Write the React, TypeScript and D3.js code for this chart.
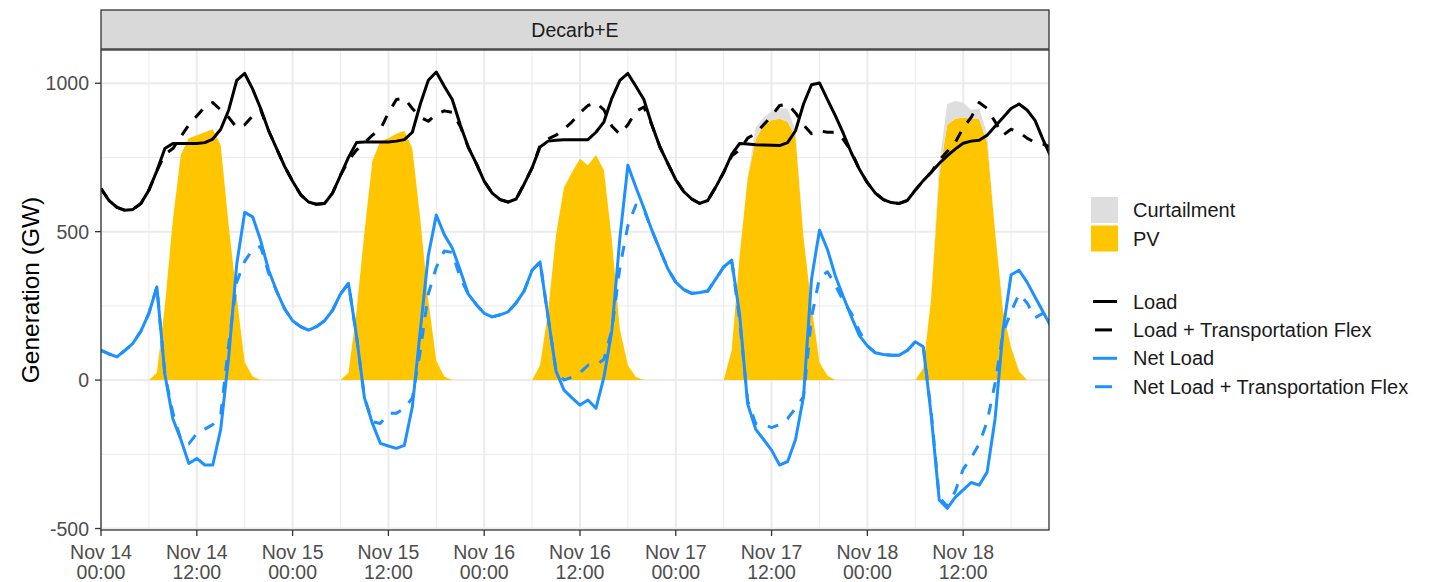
import React from "react";
import * as d3 from "d3";

// Hourly series starting Nov 14 00:00 (120 hours)
const startTime = Date.UTC(2019, 10, 14, 0, 0);

const load = [
  645, 605, 582, 572, 575, 595, 640, 705, 780, 797, 797, 797, 797, 800, 812, 845, 910, 1010, 1033, 980, 915, 840, 780, 720,
  670, 625, 600, 592, 595, 630, 690, 750, 800, 802, 802, 802, 802, 805, 810, 835, 930, 1010, 1038, 990, 945, 860, 785, 730,
  670, 630, 608, 600, 610, 660, 715, 785, 805, 808, 810, 810, 810, 810, 835, 870, 950, 1010, 1033, 990, 945, 860, 786, 730,
  675, 635, 610, 595, 605, 650, 700, 760, 797, 795, 793, 792, 791, 790, 800, 840, 930, 995, 1001, 945, 890, 830, 765, 710,
  665, 630, 608, 598, 595, 605, 640, 672, 700, 730, 755, 778, 798, 805, 808, 825, 855, 885, 915, 930, 910, 875, 810, 752,
];

const loadFlex = [
  645, 605, 582, 572, 575, 595, 640, 705, 760, 780, 820, 860, 890, 920, 935, 910, 885, 850, 860, 890, 910, 840, 780, 720,
  670, 625, 600, 592, 595, 630, 690, 740, 775, 800, 825, 845, 900, 945, 950, 915, 885, 872, 895, 907, 902, 855, 785, 730,
  670, 630, 608, 600, 610, 660, 715, 790, 812, 825, 845, 870, 900, 925, 935, 910, 855, 828, 860, 905, 920, 860, 786, 730,
  675, 635, 610, 595, 605, 650, 700, 755, 775, 815, 830, 860, 890, 925, 930, 900, 860, 830, 840, 835, 835, 810, 770, 710,
  665, 630, 608, 598, 595, 605, 640, 672, 700, 740, 770, 800, 850, 885, 935, 915, 870, 825, 845, 835, 815, 800, 795, 785,
];

const netLoad = [
  100, 88, 78, 100, 124, 165, 225, 314, 20, -130, -200, -281, -264, -286, -286, -165, 80, 390, 565, 550, 470, 370, 300, 240,
  200, 180, 168, 180, 200, 235, 290, 326, 150, -60, -146, -213, -222, -230, -220, -90, 168, 420, 556, 490, 445, 370, 290, 255,
  225, 213, 220, 230, 260, 300, 370, 398, 213, 30, -34, -60, -84, -67, -95, 10, 168, 480, 724, 650, 580, 505, 440, 375,
  330, 305, 292, 295, 300, 340, 381, 404, 220, -80, -165, -200, -236, -286, -275, -200, -56, 340, 505, 440, 350, 280, 213, 150,
  115, 92, 86, 84, 84, 100, 129, 112, -120, -404, -432, -395, -370, -345, -354, -310, -130, 170, 355, 370, 330, 280, 230, 180,
];

const netLoadFlex = [
  100, 88, 78, 100, 124, 165, 225, 314, 20, -110, -200, -215, -180, -165, -150, -115, 120, 330, 400, 440, 450, 360, 300, 240,
  200, 180, 168, 180, 200, 235, 290, 326, 150, -60, -140, -146, -112, -112, -95, -60, 100, 290, 380, 435, 430, 345, 290, 255,
  225, 213, 220, 230, 260, 300, 370, 398, 213, 30, 0, 10, 25, 50, 50, 70, 170, 380, 520, 590, 575, 505, 440, 375,
  330, 305, 292, 295, 300, 340, 381, 404, 200, -70, -146, -150, -160, -150, -130, -95, -56, 210, 345, 365, 320, 265, 225, 165,
  115, 92, 86, 84, 84, 100, 129, 112, -110, -395, -425, -375, -300, -262, -215, -140, -10, 160, 230, 290, 260, 210, 225, 205,
];

const pv = [
  0, 0, 0, 0, 0, 0, 0, 25, 250, 540, 760, 815, 825, 835, 845, 790, 520, 280, 60, 12, 0, 0, 0, 0,
  0, 0, 0, 0, 0, 0, 0, 25, 230, 500, 740, 805, 815, 830, 840, 780, 540, 270, 65, 12, 0, 0, 0, 0,
  0, 0, 0, 0, 0, 0, 0, 50, 230, 490, 650, 700, 746, 724, 758, 707, 470, 170, 50, 10, 0, 0, 0, 0,
  0, 0, 0, 0, 0, 0, 0, 100, 420, 680, 810, 860, 875, 880, 870, 820, 480, 250, 60, 15, 0, 0, 0, 0,
  0, 0, 0, 0, 0, 0, 0, 40, 280, 690, 860, 880, 885, 880, 880, 800, 500, 230, 110, 30, 0, 0, 0, 0,
];

const curtailment = [
  0, 0, 0, 0, 0, 0, 0, 0, 0, 0, 0, 0, 0, 0, 0, 0, 0, 0, 0, 0, 0, 0, 0, 0,
  0, 0, 0, 0, 0, 0, 0, 0, 0, 0, 0, 0, 0, 0, 0, 0, 0, 0, 0, 0, 0, 0, 0, 0,
  0, 0, 0, 0, 0, 0, 0, 0, 0, 0, 0, 0, 0, 0, 0, 0, 0, 0, 0, 0, 0, 0, 0, 0,
  0, 0, 0, 0, 0, 0, 0, 0, 0, 0, 40, 25, 30, 35, 45, 20, 0, 0, 0, 0, 0, 0, 0, 0,
  0, 0, 0, 0, 0, 0, 0, 0, 0, 40, 70, 60, 50, 30, 35, 30, 0, 0, 0, 0, 0, 0, 0, 0,
];

const yTicks = [-500, 0, 500, 1000];
const yMinor = [-250, 250, 750];
const stripLabel = "Decarb+E";
const yTitle = "Generation (GW)";
const fillLegend = [
  { label: "Curtailment", color: "#DEDEDE" },
  { label: "PV", color: "#FFC600" },
];
const lineLegend = [
  { label: "Load", color: "#000000", dashed: false },
  { label: "Load + Transportation Flex", color: "#000000", dashed: true },
  { label: "Net Load", color: "#1E90FF", dashed: false },
  { label: "Net Load + Transportation Flex", color: "#1E90FF", dashed: true },
];

const FONT = "'Liberation Sans', Arial, Helvetica, sans-serif";

export default function App() {
  const W = 1429;
  const H = 582;
  const L = 101, R = 1049, T = 50, B = 530;
  const hour = 3600 * 1000;
  const times = load.map((_, i) => new Date(startTime + i * hour));
  const x = d3.scaleUtc().domain([new Date(startTime), new Date(startTime + 118.75 * hour)]).range([L, R]);
  const y = d3.scaleLinear().domain([-505, 1112]).range([B, T]);

  const majorX = d3.range(0, 118, 12).map((h) => new Date(startTime + h * hour));
  const minorX = d3.range(6, 119, 12).map((h) => new Date(startTime + h * hour));
  const fmtDay = d3.utcFormat("%b %d");
  const fmtTime = d3.utcFormat("%H:%M");

  const idx = d3.range(load.length);
  const pvArea = d3.area<number>().x((i) => x(times[i])).y0(() => y(0)).y1((i) => y(pv[i]))(idx) || "";
  const curtArea = d3.area<number>().x((i) => x(times[i])).y0((i) => y(pv[i])).y1((i) => y(pv[i] + curtailment[i]))(idx) || "";
  const mkLine = (arr: number[]) => d3.line<number>().x((i) => x(times[i])).y((i) => y(arr[i]))(idx) || "";

  const series = [
    { data: load, color: "#000000", dashed: false },
    { data: loadFlex, color: "#000000", dashed: true },
    { data: netLoad, color: "#1E90FF", dashed: false },
    { data: netLoadFlex, color: "#1E90FF", dashed: true },
  ];

  return (
    <svg width={W} height={H} style={{ position: "absolute", left: 0, top: 0, background: "#fff" }} fontFamily={FONT}>
      <defs>
        <clipPath id="panel">
          <rect x={L} y={T} width={R - L} height={B - T} />
        </clipPath>
      </defs>
      {/* strip */}
      <rect x={L} y={10} width={R - L} height={39} fill="#D9D9D9" stroke="#333333" strokeWidth={1.3} />
      <text x={(L + R) / 2} y={30} textAnchor="middle" dominantBaseline="central" fontSize={19.5} fill="#1A1A1A">
        {stripLabel}
      </text>
      {/* panel background and grid */}
      <rect x={L} y={T} width={R - L} height={B - T} fill="#FFFFFF" />
      {yMinor.map((v) => (
        <line key={"ym" + v} x1={L} x2={R} y1={y(v)} y2={y(v)} stroke="#EBEBEB" strokeWidth={1} />
      ))}
      {minorX.map((d, i) => (
        <line key={"xm" + i} x1={x(d)} x2={x(d)} y1={T} y2={B} stroke="#EBEBEB" strokeWidth={1} />
      ))}
      {yTicks.map((v) => (
        <line key={"yg" + v} x1={L} x2={R} y1={y(v)} y2={y(v)} stroke="#EBEBEB" strokeWidth={2} />
      ))}
      {majorX.map((d, i) => (
        <line key={"xg" + i} x1={x(d)} x2={x(d)} y1={T} y2={B} stroke="#EBEBEB" strokeWidth={2} />
      ))}
      <g clipPath="url(#panel)">
        <path d={pvArea} fill="#FFC600" />
        <path d={curtArea} fill="#DEDEDE" />
        {series.map((s, i) => (
          <path
            key={"s" + i}
            d={mkLine(s.data)}
            fill="none"
            stroke={s.color}
            strokeWidth={3}
            strokeDasharray={s.dashed ? "11 11" : undefined}
            strokeLinejoin="round"
          />
        ))}
      </g>
      <rect x={L} y={T} width={R - L} height={B - T} fill="none" stroke="#333333" strokeWidth={1.3} />
      {/* y axis */}
      {yTicks.map((v) => (
        <g key={"yt" + v}>
          <line x1={L - 6} x2={L} y1={y(v)} y2={y(v)} stroke="#333333" strokeWidth={1.3} />
          <text x={L - 12} y={y(v)} textAnchor="end" dominantBaseline="central" fontSize={19.5} fill="#4D4D4D">
            {v}
          </text>
        </g>
      ))}
      <text
        transform={`translate(30, ${(T + B) / 2}) rotate(-90)`}
        textAnchor="middle"
        dominantBaseline="central"
        fontSize={24.5}
        fill="#000000"
      >
        {yTitle}
      </text>
      {/* x axis */}
      {majorX.map((d, i) => (
        <g key={"xt" + i}>
          <line x1={x(d)} x2={x(d)} y1={B} y2={B + 6} stroke="#333333" strokeWidth={1.3} />
          <text x={x(d)} y={552} textAnchor="middle" dominantBaseline="central" fontSize={19.5} fill="#4D4D4D">
            {fmtDay(d)}
          </text>
          <text x={x(d)} y={572} textAnchor="middle" dominantBaseline="central" fontSize={19.5} fill="#4D4D4D">
            {fmtTime(d)}
          </text>
        </g>
      ))}
      {/* legends */}
      {fillLegend.map((f, i) => (
        <g key={"fl" + i}>
          <rect x={1091} y={197 + i * 28.5} width={27} height={26} fill={f.color} />
          <text x={1133} y={210 + i * 28.5} dominantBaseline="central" fontSize={20} fill="#1A1A1A">
            {f.label}
          </text>
        </g>
      ))}
      {lineLegend.map((l, i) => (
        <g key={"ll" + i}>
          <line
            x1={l.dashed ? 1095 : 1093}
            x2={l.dashed ? 1112 : 1117}
            y1={301.5 + i * 28.4}
            y2={301.5 + i * 28.4}
            stroke={l.color}
            strokeWidth={3}
          />
          <text x={1133} y={301.5 + i * 28.4} dominantBaseline="central" fontSize={20} fill="#1A1A1A">
            {l.label}
          </text>
        </g>
      ))}
    </svg>
  );
}
